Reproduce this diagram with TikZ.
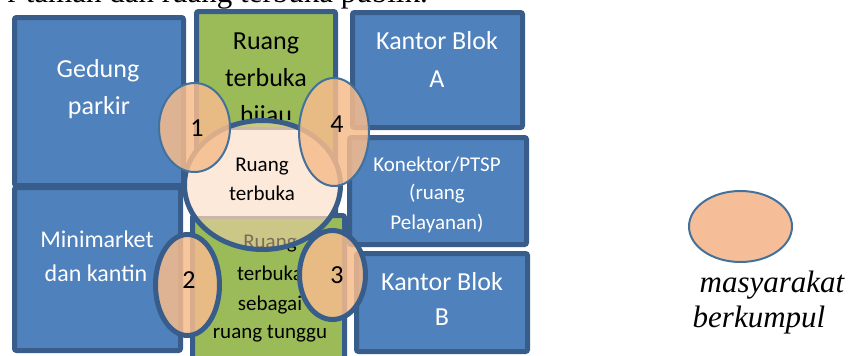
\documentclass[tikz,border=0pt]{standalone}
\usepackage{fontspec}
\setmainfont{Liberation Serif}
\setsansfont{Carlito}
\definecolor{boxblue}{HTML}{4F81BD}
\definecolor{boxgreen}{HTML}{9BBB59}
\definecolor{edgeblue}{HTML}{385D8A}
\definecolor{thinblue}{HTML}{41719C}
\definecolor{peach}{HTML}{F6BC8C}
\definecolor{lightpeach}{HTML}{FBD4B4}
\definecolor{legendpeach}{HTML}{F6BE98}
\definecolor{rimgray}{HTML}{9A9A9A}
\begin{document}
\begin{tikzpicture}[x=1pt,y=-1pt,
  block/.style={draw=edgeblue,line width=5pt,rounded corners=2pt,fill=boxblue},
  greenblock/.style={draw=edgeblue,line width=5pt,rounded corners=2pt,fill=boxgreen},
  lbl/.style={inner sep=0pt,anchor=base,font=\sffamily\fontsize{26}{30}\selectfont},
  wlbl/.style={lbl,text=white},
  slbl/.style={inner sep=0pt,anchor=base,font=\sffamily\fontsize{21}{25}\selectfont},
  wslbl/.style={slbl,text=white},
  num/.style={inner sep=0pt,anchor=base,font=\sffamily\fontsize{26}{30}\selectfont},
  spot/.style={fill=peach,fill opacity=0.85},
  legendtext/.style={inner sep=0pt,anchor=base,font=\itshape\fontsize{31}{36}\selectfont}
]
\useasboundingbox (0,0) rectangle (852,356);

% closing words of the paragraph above the plan
\node[inner sep=0pt,anchor=base east,font=\fontsize{31}{36}\selectfont] (para) at (428,2) {r taman dan ruang terbuka publik.};

% buildings
\draw[block] (14.5,17.5) rectangle (183.5,185.5);
\node[wlbl] (gp1) at (98,77) {Gedung};
\node[wlbl] (gp2) at (99,114) {parkir};

\draw[block] (14.5,187.5) rectangle (180.5,350.5);
\node[wlbl,font=\sffamily\fontsize{24}{28}\selectfont] (mm1) at (97,247) {Minimarket};
\node[wlbl,font=\sffamily\fontsize{24}{28}\selectfont] (mm2) at (96,281) {dan kantin};

\draw[block] (352.5,12.5) rectangle (522.5,127.5);
\node[wlbl] (ka1) at (437,49) {Kantor Blok};
\node[wlbl] (ka2) at (437,87) {A};

\draw[block] (349.5,137.5) rectangle (526.5,244.5);
\node[wslbl] (kp1) at (437,171) {Konektor/PTSP};
\node[wslbl] (kp2) at (437,199) {(ruang};
\node[wslbl] (kp3) at (437,229) {Pelayanan)};

\draw[block] (356.5,253.5) rectangle (527.5,351.5);
\node[wlbl] (kb1) at (442,290) {Kantor Blok};
\node[wlbl] (kb2) at (442,325) {B};

% green open spaces
\draw[greenblock] (196.5,11.5) rectangle (335.5,215);
\node[lbl] (rh1) at (266,49) {Ruang};
\node[lbl] (rh2) at (266,86) {terbuka};
\begin{scope}
  \clip (190,90) rectangle (340,119);
  \node[lbl] (rh3) at (266,123) {hijau};
\end{scope}

\draw[greenblock] (192.5,215.5) rectangle (344.5,365);
\node[slbl] (rt1) at (270,248) {Ruang};
\node[slbl] (rt2) at (270,280) {terbuka};
\node[slbl] (rt3) at (270,310) {sebagai};
\node[slbl] (rt4) at (270,338) {ruang tunggu};

% central open space
\begin{scope}
  \clip (262.5,185) ellipse [x radius=78pt,y radius=64.5pt];
  \draw[rimgray,line width=3pt,fill=white] (183,128) rectangle (345,217);
\end{scope}
\draw[edgeblue,line width=5pt,fill=lightpeach,fill opacity=0.5] (262.5,185) ellipse [x radius=78pt,y radius=64.5pt];
\node[slbl] (ro1) at (262,171) {Ruang};
\node[slbl] (ro2) at (262,200) {terbuka};

% gathering spots
\draw[spot,draw=thinblue,line width=2pt] (194.5,127.5) ellipse [x radius=35.5pt,y radius=44.5pt];
\draw[spot,draw=thinblue,line width=2pt] (334,132) ellipse [x radius=35pt,y radius=54pt];
\draw[spot,draw=edgeblue,line width=5pt] (187.5,285) ellipse [x radius=32pt,y radius=50.5pt];
\draw[spot,draw=edgeblue,line width=5pt] (332.5,275) ellipse [x radius=33pt,y radius=44.5pt];
\node[num] (n1) at (197,136) {1};
\node[num] (n4) at (337,132) {4};
\node[num] (n2) at (189,288) {2};
\node[num] (n3) at (337,283) {3};

% legend
\draw[fill=legendpeach,draw=thinblue,line width=2pt] (740.5,226.5) ellipse [x radius=51.5pt,y radius=35.5pt];
\node[legendtext] (lg1) at (772,292) {masyarakat};
\node[legendtext] (lg2) at (759,327) {berkumpul};
\end{tikzpicture}
\end{document}
